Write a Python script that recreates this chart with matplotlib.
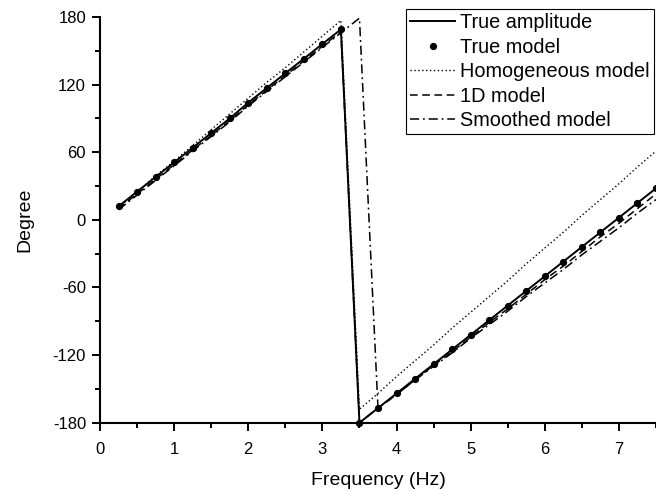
import numpy as np
import matplotlib.pyplot as plt
from matplotlib.ticker import MultipleLocator

plt.rcParams['font.family'] = ['Liberation Sans', 'DejaVu Sans']
plt.rcParams['axes.unicode_minus'] = False

# frequencies (Hz), sampled every 0.25 Hz
freq = [0.25, 0.5, 0.75, 1.0, 1.25, 1.5, 1.75, 2.0, 2.25, 2.5, 2.75, 3.0, 3.25,
        3.5, 3.75, 4.0, 4.25, 4.5, 4.75, 5.0, 5.25, 5.5, 5.75, 6.0, 6.25, 6.5,
        6.75, 7.0, 7.25, 7.5]

# wrapped phase (degree)
true_phase = [12, 25, 38, 51, 64, 77, 90, 104, 117, 130, 143, 156, 169,
              -180, -167, -154, -141, -128, -115, -102, -89, -76, -63, -50,
              -37, -24, -11, 2, 15, 28]
homog_phase = [11, 25, 39, 52, 66, 80, 94, 108, 122, 135, 149, 163, 177,
               -168, -154, -139, -125, -111, -96, -82, -68, -54, -39, -25,
               -11, 4, 18, 32, 47, 61]
oned_phase = [10, 23, 36, 49, 62, 75, 88, 102, 115, 128, 141, 154, 167,
              -180, -167, -155, -142, -129, -117, -104, -91, -79, -66, -53,
              -41, -28, -15, -3, 10, 23]
smooth_phase = [9, 22, 35, 48, 61, 74, 87, 101, 114, 127, 140, 153, 166,
                179, -167, -155, -142, -130, -118, -105, -93, -81, -68, -56,
                -44, -31, -19, -7, 6, 18]

fig = plt.figure(figsize=(6.56, 4.91), dpi=100)
ax = fig.add_axes([0.1524, 0.139, 0.8476, 0.8264])

ax.plot(freq, true_phase, '-', color='black', lw=1.4, label='True amplitude')
ax.plot(freq, true_phase, 'o', color='black', ms=4.2, label='True model',
        clip_on=False)
ax.plot(freq, homog_phase, ':', color='black', lw=1.0, dashes=(1, 1.8),
        label='Homogeneous model')
ax.plot(freq, oned_phase, '--', color='black', lw=1.1, dashes=(5, 3),
        label='1D model')
ax.plot(freq, smooth_phase, '-.', color='black', lw=1.1, dashes=(6, 2.5, 1.2, 2.5),
        label='Smoothed model')

ax.set_xlim(0, 7.5)
ax.set_ylim(-180, 180)
ax.xaxis.set_major_locator(MultipleLocator(1))
ax.xaxis.set_minor_locator(MultipleLocator(0.5))
ax.yaxis.set_major_locator(MultipleLocator(60))
ax.yaxis.set_minor_locator(MultipleLocator(30))
ax.tick_params(which='major', direction='out', length=6, width=1.4, labelsize=12)
ax.tick_params(which='minor', direction='out', length=3.5, width=1.4)
ax.tick_params(axis='x', which='major', pad=8)
ax.tick_params(axis='y', which='major', pad=4)
for side in ['top', 'right']:
    ax.spines[side].set_visible(False)
for side in ['left', 'bottom']:
    ax.spines[side].set_linewidth(1.5)

ax.set_xlabel('Frequency (Hz)', fontsize=14, labelpad=11)
ax.set_ylabel('Degree', fontsize=14, labelpad=14)

leg = ax.legend(loc='upper right', bbox_to_anchor=(654 / 656, 1 - 9 / 491),
                bbox_transform=fig.transFigure, fontsize=14.3, fancybox=False,
                edgecolor='black', framealpha=1, borderaxespad=0, borderpad=0.2,
                labelspacing=0.28, handlelength=2.3, handletextpad=0.25,
                numpoints=1)
leg.get_frame().set_linewidth(0.8)

fig.savefig('out.png', dpi=100)
